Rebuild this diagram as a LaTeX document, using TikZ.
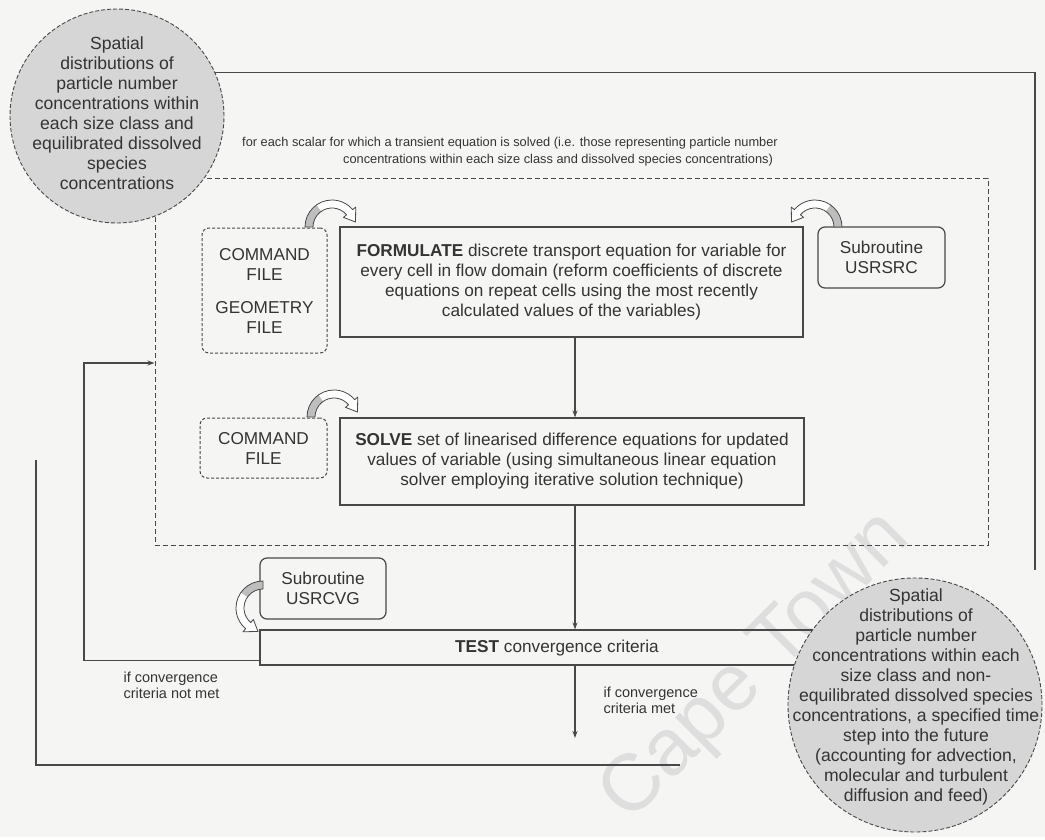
\documentclass[tikz,border=0pt]{standalone}
\usepackage{fontspec}
\setmainfont{Liberation Sans}
\usetikzlibrary{calc,arrows.meta}

\definecolor{pagebg}{RGB}{245,245,243}
\definecolor{ink}{RGB}{72,72,72}
\definecolor{txt}{RGB}{52,52,52}
\definecolor{blob}{RGB}{214,214,214}
\definecolor{legshade}{RGB}{190,190,190}
\definecolor{markgray}{RGB}{222,222,222}

\tikzset{
  wire/.style={draw=ink, line width=1.2pt},
  flow/.style={wire, -{Stealth[length=7pt,width=5pt]}},
  procbox/.style={draw=ink, line width=1.2pt, inner sep=4pt},
  filebox/.style={draw=ink, line width=1pt, dash pattern=on 3pt off 2pt, rounded corners=7pt},
  subbox/.style={draw=ink, line width=1.2pt, rounded corners=7pt},
  loopframe/.style={draw=ink, line width=1pt, dash pattern=on 5pt off 3pt, inner sep=0pt},
  blobnode/.style={circle, draw=ink, line width=0.9pt, dash pattern=on 4pt off 2pt, fill=blob, inner sep=0pt},
  bodytext/.style={text=txt, font=\fontsize{17.2}{20}\selectfont, align=center},
  blobtext/.style={text=txt, font=\fontsize{17.6}{20}\selectfont, align=center},
  headtext/.style={text=txt, font=\fontsize{12.8}{17}\selectfont},
  smalltext/.style={text=txt, font=\fontsize{14.5}{16}\selectfont, align=left},
  turnline/.style={draw=ink, line width=0.8pt, line join=round}
}

% curved "U-turn" arrow: centre, start angle, turning sense (+1 ccw, -1 cw)
\newcommand\bentarrow[3]{%
  \begin{scope}[shift={#1}]
    \pgfmathsetmacro\baA{#2}
    \pgfmathsetmacro\baB{#2+(#3)*140}
    \pgfmathsetmacro\baT{#2+(#3)*168}
    \pgfmathsetmacro\baL{#2+(#3)*55}
    \fill[white] (\baA:27pt) arc[start angle=\baA,end angle=\baB,radius=27pt]
      -- (\baB:31pt) -- (\baT:24pt) -- (\baB:15pt) -- (\baB:19pt)
      arc[start angle=\baB,end angle=\baA,radius=19pt] -- cycle;
    \fill[legshade] (\baA:27pt) arc[start angle=\baA,end angle=\baL,radius=27pt]
      -- (\baL:19pt) arc[start angle=\baL,end angle=\baA,radius=19pt] -- cycle;
    \draw[turnline] (\baA:27pt) arc[start angle=\baA,end angle=\baB,radius=27pt]
      -- (\baB:31pt) -- (\baT:24pt) -- (\baB:15pt) -- (\baB:19pt)
      arc[start angle=\baB,end angle=\baA,radius=19pt] -- cycle;
  \end{scope}}

\begin{document}
\begin{tikzpicture}[x=1pt,y=-1pt]
  % page
  \fill[pagebg] (0,0) rectangle (1045,837);

  % watermark
  \node[text=markgray, font=\fontsize{80}{80}\selectfont, rotate=45] (mark) at (757,668) {Cape Town};

  % loop over transported scalars
  \node[loopframe, minimum width=833pt, minimum height=367pt] (loopbox) at (571.5,361.5) {};

  % process boxes
  \node[procbox, bodytext, minimum width=463pt, minimum height=110pt] (formulate) at (571.5,282)
    {\textbf{FORMULATE} discrete transport equation for variable for\\every cell in flow domain (reform coefficients of discrete\\equations on repeat cells using the most recently\\calculated values of the variables)};
  \node[procbox, bodytext, minimum width=464pt, minimum height=87pt] (solve) at (572,461.5)
    {\textbf{SOLVE} set of linearised difference equations for updated\\values of variable (using simultaneous linear equation\\solver employing iterative solution technique)};
  \node[procbox, minimum width=590pt, minimum height=35pt] (test) at (555,647.5) {};
  \node[bodytext] (testText) at (557,648) {\textbf{TEST} convergence criteria};

  % input files and user subroutines
  \node[filebox, bodytext, minimum width=125pt, minimum height=125pt] (cmdgeo) at (264.5,290.5)
    {COMMAND\\FILE\\[13pt]GEOMETRY\\FILE};
  \node[filebox, bodytext, minimum width=127pt, minimum height=60pt] (cmd2) at (263.5,448)
    {COMMAND\\FILE};
  \node[subbox, bodytext, minimum width=127pt, minimum height=61pt] (usrsrc) at (881.5,257.5)
    {Subroutine\\USRSRC};
  \node[subbox, bodytext, minimum width=126pt, minimum height=61pt] (usrcvg) at (323,588.5)
    {Subroutine\\USRCVG};

  % concentration fields before and after the time step
  \node[blobnode, minimum size=214pt] (circTop) at (117,116) {};
  \node[blobtext] (circTopText) at (117,113)
    {Spatial\\distributions of\\particle number\\concentrations within\\each size class and\\equilibrated dissolved\\species\\concentrations};
  \node[blobnode, minimum size=254pt] (circBot) at (915,705) {};
  \node[blobtext] (circBotText) at (916,697)
    {Spatial\\distributions of\\particle number\\concentrations within each\\size class and non-\\equilibrated dissolved species\\concentrations, a specified time\\step into the future\\(accounting for advection,\\molecular and turbulent\\diffusion and feed)};

  % loop heading
  \node[headtext] (scalarA) at (510,143)
    {for each scalar for which a transient equation is solved (i.e. those representing particle number};
  \node[headtext] (scalarB) at (558,160)
    {concentrations within each size class and dissolved species concentrations)};

  % main sequence
  \coordinate (spine) at (575,0);
  \draw[flow] (formulate.south -| spine) -- (solve.north -| spine);
  \draw[flow] (solve.south -| spine) -- (test.north -| spine);
  \coordinate (metEnd) at (575,738);
  \draw[flow] (test.south -| spine) -- (metEnd);
  \node[smalltext, anchor=west] (met) at (600,700) {if convergence\\criteria met};

  % return when not converged
  \coordinate (retX) at (84,363);
  \draw[flow] ($(test.south west)+(0,-5)$) -| (retX) -- (loopbox.west |- retX);
  \node[smalltext, anchor=west] (notmet) at (120,685) {if convergence\\criteria not met};

  % outer time-step lines
  \coordinate (outerTop) at (36,460);
  \coordinate (outerEnd) at (680,765);
  \draw[wire] (outerTop) |- (outerEnd);
  \coordinate (topR) at (1035,570);
  \draw[wire] (circTop.24) -| (topR);

  % data hand-over arrows
  \bentarrow{(332,227)}{180}{-1}
  \bentarrow{(334,417)}{180}{-1}
  \bentarrow{(815,227)}{0}{1}
  \bentarrow{(263,608)}{90}{1}
\end{tikzpicture}
\end{document}
